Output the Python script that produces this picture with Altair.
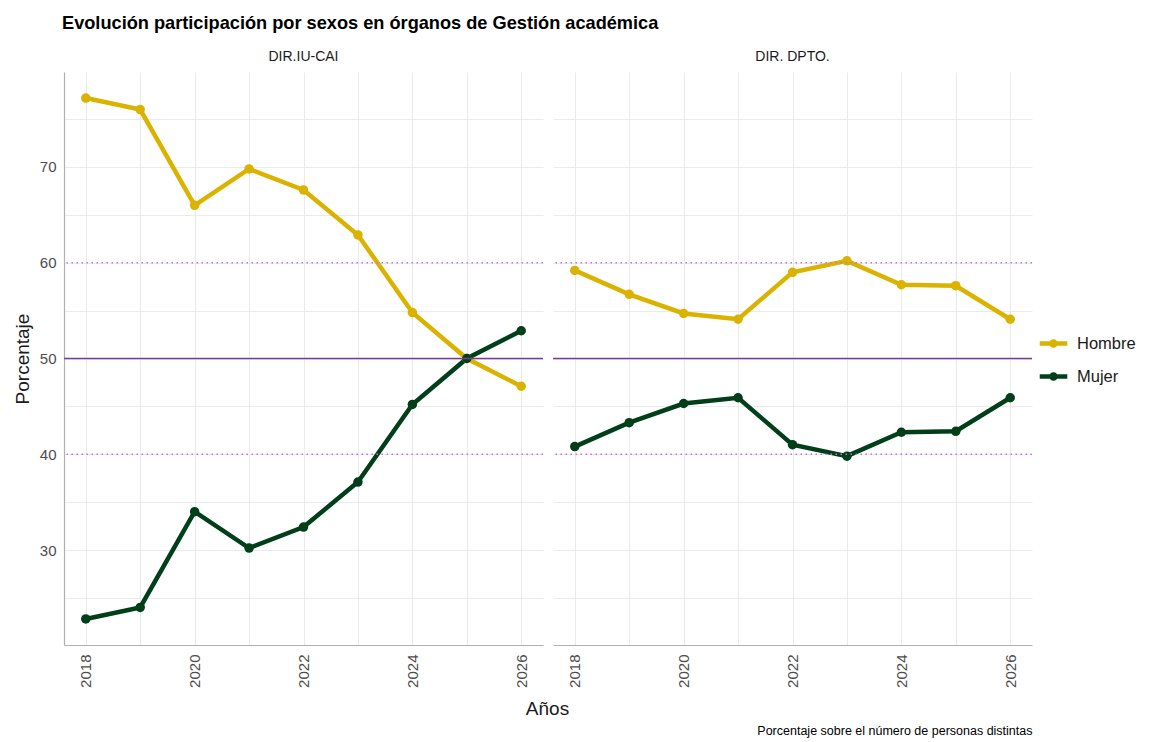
import altair as alt
import pandas as pd

years = [2018, 2019, 2020, 2021, 2022, 2023, 2024, 2025, 2026]
iu_hombre = [77.2, 76.0, 66.0, 69.8, 67.6, 62.9, 54.8, 50.0, 47.1]
iu_mujer = [22.8, 24.0, 34.0, 30.2, 32.4, 37.1, 45.2, 50.0, 52.9]
dpto_hombre = [59.2, 56.7, 54.7, 54.1, 59.0, 60.2, 57.7, 57.6, 54.1]
dpto_mujer = [40.8, 43.3, 45.3, 45.9, 41.0, 39.8, 42.3, 42.4, 45.9]

sexos = ["Hombre", "Mujer"]
colores = ["#D9B300", "#003F1A"]
ref_solid = [50]
ref_dotted = [40, 60]

FONT = "Liberation Sans"


def make_df(h, m):
    rows = []
    for y, v in zip(years, h):
        rows.append({"Año": y, "Porcentaje": v, "Sexo": "Hombre"})
    for y, v in zip(years, m):
        rows.append({"Año": y, "Porcentaje": v, "Sexo": "Mujer"})
    return pd.DataFrame(rows)


solid_df = pd.DataFrame({"y": ref_solid})
dotted_df = pd.DataFrame({"y": ref_dotted})

color_scale = alt.Scale(domain=sexos, range=colores)
x_scale = alt.Scale(domain=[2017.6, 2026.4], nice=False, zero=False)
y_scale = alt.Scale(domain=[20.08, 79.92], nice=False, zero=False)

legend_path = ("M-1,0 L1,0 "
               "M-0.15,0 A0.15,0.15 0 1,0 0.15,0 A0.15,0.15 0 1,0 -0.15,0 Z")

legend_def = alt.Legend(
    title=None,
    orient="none",
    legendX=973,
    legendY=255,
    symbolType=legend_path,
    symbolSize=760,
    symbolStrokeWidth=4.5,
    labelFontSize=16.5,
    labelColor="#1A1A1A",
    labelFont=FONT,
    labelOffset=7,
    rowPadding=5,
)


def panel(df, title, first):
    x_axis = alt.Axis(
        values=years,
        labelExpr="datum.value % 2 == 0 ? datum.label : ''",
        format="d",
        labelAngle=270,
        labelFontSize=15,
        labelColor="#4D4D4D",
        labelFont=FONT,
        labelPadding=9,
        ticks=False,
        domain=True,
        domainColor="#B0B0B0",
        domainWidth=1.2,
        grid=True,
        gridColor="#EBEBEB",
        title="Años" if first else "Porcentaje sobre el número de personas distintas",
        titleFont=FONT,
        titleFontSize=19 if first else 12.5,
        titleFontWeight="normal",
        titleColor="#1A1A1A" if first else "#000000",
        titleX=483 if first else 479,
        titleY=69 if first else 89,
        titleAlign="center" if first else "right",
        titleAnchor="start",
        titleBaseline="alphabetic",
    )
    y_vals = [25, 30, 35, 40, 45, 50, 55, 60, 65, 70, 75]
    if first:
        y_axis = alt.Axis(
            values=y_vals,
            labelExpr="datum.value % 10 == 0 ? datum.label : ''",
            labelFontSize=15,
            labelColor="#4D4D4D",
            labelFont=FONT,
            labelPadding=8,
            ticks=False,
            domain=True,
            domainColor="#B0B0B0",
            domainWidth=1.2,
            grid=True,
            gridColor="#EBEBEB",
            title="Porcentaje",
            titleFont=FONT,
            titleFontSize=19,
            titleFontWeight="normal",
            titleColor="#1A1A1A",
            titlePadding=7,
        )
    else:
        y_axis = alt.Axis(
            values=y_vals,
            labels=False,
            ticks=False,
            domain=False,
            grid=True,
            gridColor="#EBEBEB",
            title=None,
        )

    X = alt.X("Año:Q", scale=x_scale, axis=x_axis)
    Y = alt.Y("Porcentaje:Q", scale=y_scale, axis=y_axis)

    lines = alt.Chart(df).mark_line(strokeWidth=4.5).encode(
        x=X, y=Y,
        color=alt.Color("Sexo:N", scale=color_scale, legend=legend_def),
    )
    points = alt.Chart(df).mark_point(filled=True, size=90, opacity=1, shape="circle").encode(
        x=alt.X("Año:Q", scale=x_scale),
        y=alt.Y("Porcentaje:Q", scale=y_scale),
        color=alt.Color("Sexo:N", scale=color_scale, legend=None),
    )
    solid = alt.Chart(solid_df).mark_rule(color="#7B3A96", strokeWidth=1.5).encode(
        y=alt.Y("y:Q", scale=y_scale)
    )
    dotted = alt.Chart(dotted_df).mark_rule(
        color="#C86DF0", strokeWidth=1.5, strokeDash=[1.5, 3.5]
    ).encode(y=alt.Y("y:Q", scale=y_scale))

    return alt.layer(lines, points, solid, dotted).properties(
        width=479,
        height=573,
        title=alt.TitleParams(
            title, fontSize=14, fontWeight="normal", color="#1A1A1A",
            font=FONT, offset=8, anchor="middle",
        ),
    )


left = panel(make_df(iu_hombre, iu_mujer), "DIR.IU-CAI", True)
right = panel(make_df(dpto_hombre, dpto_mujer), "DIR. DPTO.", False)

chart = alt.hconcat(left, right, spacing=10, bounds="flush").resolve_legend(
    color="shared"
).resolve_scale(color="shared").properties(
    background="white",
    title=alt.TitleParams(
        "Evolución participación por sexos en órganos de Gestión académica",
        anchor="start", frame="group", fontSize=18.2, fontWeight="bold",
        color="#000000", font=FONT, offset=17, dx=-2,
    ),
).configure_view(stroke="transparent", strokeWidth=0).configure_axis(
    gridColor="#EBEBEB", gridWidth=1, labelFont=FONT, titleFont=FONT
)

chart.save("out.html", embed_options={"renderer": "svg", "actions": False})
